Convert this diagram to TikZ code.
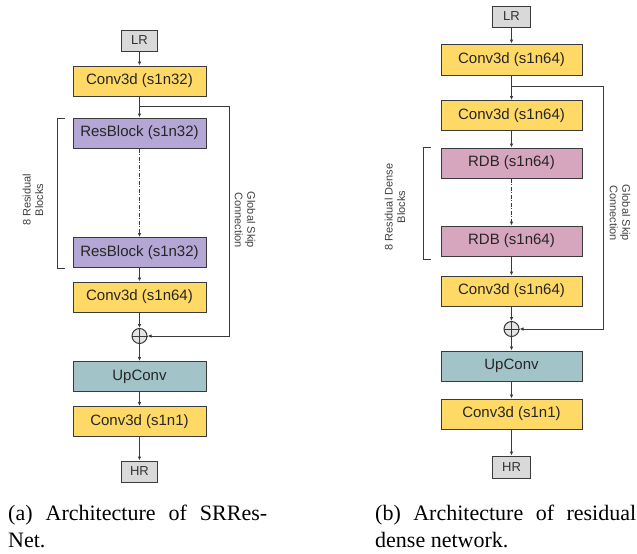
\documentclass[tikz,border=0pt]{standalone}
\usepackage{fontspec}
\setmainfont{Liberation Serif}
\newfontfamily\boxfont{Liberation Sans}
\usetikzlibrary{arrows.meta}
\definecolor{cyel}{HTML}{FFD966}
\definecolor{cpur}{HTML}{B4A7D6}
\definecolor{cpink}{HTML}{D5A6BD}
\definecolor{cteal}{HTML}{A2C4C9}
\definecolor{cgray}{HTML}{D9D9D9}
\definecolor{cline}{HTML}{3A3A3A}
\tikzset{
  blk/.style={draw=cline, line width=1pt, minimum height=30pt, inner sep=0pt, font=\boxfont\fontsize{15}{15}\selectfont, text=black!85},
  io/.style={draw=cline, fill=cgray, line width=1pt, minimum width=36pt, minimum height=21pt, inner sep=0pt, font=\boxfont\fontsize{13}{13}\selectfont, text=black!80},
  conn/.style={draw=cline, line width=1pt, -{Latex[length=4pt,width=3.5pt]}},
  plain/.style={draw=cline, line width=1pt},
  side/.style={font=\boxfont\fontsize{11}{12.5}\selectfont, align=center, text=black!75},
  captxt/.style={font=\fontsize{22}{26}\selectfont, anchor=base west, inner sep=0pt},
  addc/.style={draw=cline, fill=cgray!70, circle, minimum size=15pt, inner sep=0pt, line width=1pt},
}
\begin{document}
\begin{tikzpicture}[x=1pt,y=-1pt]
\useasboundingbox (0,0) rectangle (637,554);
% ---------------- (a) ----------------
\node[io] (aLR) at (139.5,40.5) {LR};
\node[blk, fill=cyel, minimum width=133pt] (aC1) at (139.5,81) {Conv3d (s1n32)};
\node[blk, fill=cpur, minimum width=133pt] (aR1) at (139.5,133) {ResBlock (s1n32)};
\node[blk, fill=cpur, minimum width=133pt] (aR2) at (139.5,252.5) {ResBlock (s1n32)};
\node[blk, fill=cyel, minimum width=133pt] (aC2) at (139.5,297) {Conv3d (s1n64)};
\node[addc] (aAdd) at (139.5,336) {};
\draw[plain] (aAdd.north) -- (aAdd.south) (aAdd.west) -- (aAdd.east);
\node[blk, fill=cteal, minimum width=133pt] (aUp) at (139.5,376.5) {UpConv};
\node[blk, fill=cyel, minimum width=133pt] (aC3) at (139.5,421.5) {Conv3d (s1n1)};
\node[io] (aHR) at (139.5,471.5) {HR};
\coordinate (aJ) at (139.5,106);
\coordinate (aS1) at (229,106);
\coordinate (aS2) at (229,336);
\draw[conn] (aLR) -- (aC1);
\draw[conn] (aC1) -- (aR1);
\draw[conn, dash pattern=on 4pt off 1.5pt on 1pt off 1.5pt] (aR1) -- (aR2);
\draw[conn] (aR2) -- (aC2);
\draw[conn] (aC2) -- (aAdd);
\draw[conn] (aAdd) -- (aUp);
\draw[conn] (aUp) -- (aC3);
\draw[conn] (aC3) -- (aHR);
\draw[conn] (aJ) -- (aS1) -- (aS2) -- (aAdd.east);
\coordinate (aB1) at (65,118);
\coordinate (aB2) at (65,268);
\draw[plain] (aB1) -- (57,118) -- (57,268) -- (aB2);
\node[side, rotate=90] (aL1) at (33,200) {8 Residual\\Blocks};
\node[side, rotate=-90] (aL2) at (245,220) {Global Skip\\Connection};
\node[captxt] (aCap1) at (8,520) {\makebox[259pt][s]{(a) Architecture of SRRes-}};
\node[captxt] (aCap2) at (8,547) {Net.};
% ---------------- (b) ----------------
\node[io, minimum width=38pt] (bLR) at (511.5,16.5) {LR};
\node[blk, fill=cyel, minimum width=141pt, minimum height=31pt] (bC1) at (511.5,59.5) {Conv3d (s1n64)};
\node[blk, fill=cyel, minimum width=141pt] (bC2) at (511.5,115.5) {Conv3d (s1n64)};
\node[blk, fill=cpink, minimum width=141pt] (bR1) at (511.5,163) {RDB (s1n64)};
\node[blk, fill=cpink, minimum width=141pt] (bR2) at (511.5,241) {RDB (s1n64)};
\node[blk, fill=cyel, minimum width=141pt] (bC3) at (511.5,291) {Conv3d (s1n64)};
\node[addc] (bAdd) at (511.5,329) {};
\draw[plain] (bAdd.north) -- (bAdd.south) (bAdd.west) -- (bAdd.east);
\node[blk, fill=cteal, minimum width=141pt] (bUp) at (511.5,366) {UpConv};
\node[blk, fill=cyel, minimum width=141pt] (bC4) at (511.5,414) {Conv3d (s1n1)};
\node[io, minimum width=38pt, minimum height=22pt] (bHR) at (511.5,467) {HR};
\coordinate (bJ) at (511.5,86);
\coordinate (bS1) at (603,86);
\coordinate (bS2) at (603,329);
\draw[conn] (bLR) -- (bC1);
\draw[conn] (bC1) -- (bC2);
\draw[conn] (bC2) -- (bR1);
\draw[conn, dash pattern=on 4pt off 1.5pt on 1pt off 1.5pt] (bR1) -- (bR2);
\draw[conn] (bR2) -- (bC3);
\draw[conn] (bC3) -- (bAdd);
\draw[conn] (bAdd) -- (bUp);
\draw[conn] (bUp) -- (bC4);
\draw[conn] (bC4) -- (bHR);
\draw[conn] (bJ) -- (bS1) -- (bS2) -- (bAdd.east);
\coordinate (bB1) at (431,147);
\coordinate (bB2) at (431,259);
\draw[plain] (bB1) -- (423,147) -- (423,259) -- (bB2);
\node[side, rotate=90] (bL1) at (395,207) {8 Residual Dense\\Blocks};
\node[side, rotate=-90] (bL2) at (620,213) {Global Skip\\Connection};
\node[captxt] (bCap1) at (375,520) {\makebox[261pt][s]{(b) Architecture of residual}};
\node[captxt] (bCap2) at (375,547) {dense network.};
\end{tikzpicture}
\end{document}
